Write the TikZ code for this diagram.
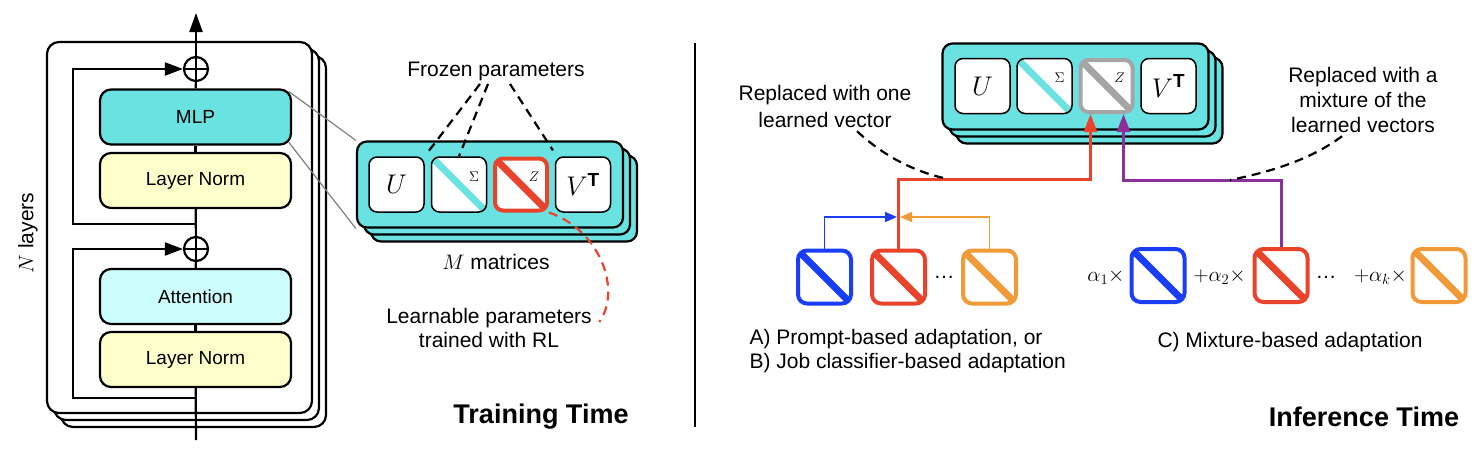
\RequirePackage{fix-cm}
\documentclass[tikz,border=0pt]{standalone}
\usepackage{amsmath}
\usepackage[no-math]{fontspec}
\setmainfont{Liberation Sans}
\setsansfont{Liberation Sans}
\usetikzlibrary{arrows.meta}
\definecolor{mlpcyan}{HTML}{6AE2E2}
\definecolor{attcyan}{HTML}{CCFEFE}
\definecolor{normyellow}{HTML}{FFFFCC}
\definecolor{zred}{HTML}{E9442B}
\definecolor{zblue}{HTML}{1A3DF6}
\definecolor{zorange}{HTML}{F19A38}
\definecolor{zpurple}{HTML}{8C2F9B}
\definecolor{zgray}{HTML}{A5A5A5}
\tikzset{
	diagline/.style={path picture={\draw[line width=7pt,#1] (path picture bounding box.north west) -- (path picture bounding box.south east);}},
	layerbox/.style={draw,line width=2.2pt,rounded corners=12pt,fill=white,minimum width=265pt,minimum height=371pt},
	blockbox/.style={draw,line width=2.2pt,rounded corners=11pt,minimum width=191pt,minimum height=55pt,font=\fontsize{19}{22}\selectfont},
	plusnode/.style={circle,draw,line width=2.2pt,minimum size=24pt},
	mblock/.style={draw,line width=2.2pt,rounded corners=10pt,fill=mlpcyan,minimum width=266pt,minimum height=86pt},
	cell/.style={draw,line width=1.5pt,rounded corners=8pt,fill=white,minimum size=55pt,font=\fontsize{27}{27}\selectfont},
	zcell/.style={draw=#1,line width=4pt,rounded corners=8pt,fill=white,minimum size=52pt,diagline=#1},
	vcell/.style={draw=#1,line width=4pt,rounded corners=9pt,fill=white,minimum size=53pt,diagline=#1},
	tiny/.style={font=\fontsize{14}{14}\selectfont},
	title/.style={font=\fontsize{27}{30}\selectfont\bfseries},
	annot/.style={line width=2.2pt,dash pattern=on 9pt off 6pt},
	bigtip/.style={-{Triangle[length=18pt,width=13pt]}},
	smalltip/.style={-{Triangle[length=12pt,width=10pt]}}
}
\begin{document}
\begin{tikzpicture}[x=1pt,y=-1pt,every node/.append style={font=\fontsize{21}{25}\selectfont}]
		\useasboundingbox (0,0) rectangle (1484,466);
		
		\node[layerbox] (L3) at (193.5,241.5) {};
		\node[layerbox] (L2) at (186.5,234.5) {};
		\node[layerbox] (L1) at (179.5,227.5) {};
		\node[rotate=90] (nl) at (28,233) {$N$ layers};
		
		\coordinate (in) at (196,440);
		\coordinate (out) at (196,13);
		\coordinate (k1) at (196,224);
		\coordinate (k2) at (196,398);
		
		\node[blockbox,fill=mlpcyan] (mlp) at (195.5,117) {MLP};
		\node[blockbox,fill=normyellow] (ln1) at (195.5,180.5) {Layer Norm};
		\node[blockbox,fill=attcyan] (att) at (195.5,296.5) {Attention};
		\node[blockbox,fill=normyellow] (ln2) at (195.5,359.5) {Layer Norm};
		\node[plusnode] (p1) at (196,69) {};
		\node[plusnode] (p2) at (196,249) {};
		
		\draw[line width=2.2pt] (in) -- (ln2);
		\draw[line width=2.2pt] (ln2) -- (att);
		\draw[line width=2.2pt] (att) -- (p2);
		\draw[line width=2.2pt] (p2) -- (ln1);
		\draw[line width=2.2pt] (ln1) -- (mlp);
		\draw[line width=2.2pt] (mlp) -- (p1);
		\draw[line width=2.2pt,-{Triangle[length=19pt,width=13pt]}] (p1) -- (out);
		\draw[line width=2.2pt] (p1.north) -- (p1.south);
		\draw[line width=2.2pt] (p1.west) -- (p1.east);
		\draw[line width=2.2pt] (p2.north) -- (p2.south);
		\draw[line width=2.2pt] (p2.west) -- (p2.east);
		\draw[line width=2.2pt,bigtip] (k1) -- (73,224) |- (p1);
		\draw[line width=2.2pt,bigtip] (k2) -- (73,398) |- (p2);
		
		\node[mblock] (mb3) at (504,198.5) {};
		\node[mblock] (mb2) at (497,191.5) {};
		\node[mblock] (mb1) at (490,184.5) {};
		\draw[gray,line width=1.2pt] ([shift={(-3.2,3.2)}]mlp.north east) -- (mb1.north west);
		\draw[gray,line width=1.2pt] ([shift={(-3.2,-3.2)}]mlp.south east) -- (mb1.south west);
		
		\node[cell] (U1) at (396.5,184.5) {$U$};
		\node[cell,diagline=mlpcyan] (S1) at (459,184.5) {};
		\node[zcell=zred] (Z1) at (521,184.5) {};
		\node[cell] (V1) at (583,184.5) {$V^{\textbf{\sffamily T}}$};
		\node[tiny] (S1l) at ([shift={(15,-8)}]S1.center) {$\Sigma$};
		\node[tiny] (Z1l) at ([shift={(13,-8)}]Z1.center) {$Z$};
		
		\node (frozen) at (496,71) {Frozen parameters};
		\draw[annot,shorten >=2pt] ([xshift=-16pt]frozen.south) -- (U1.north east);
		\draw[annot] ([xshift=-8pt]frozen.south) -- (S1.north);
		\draw[annot,shorten >=7pt] ([xshift=14pt]frozen.south) -- ([xshift=2pt]V1.north west);
		
		\node (mm) at (496,262) {$M$ matrices};
		\node[align=center,font=\fontsize{21}{24}\selectfont] (learn) at (489,328) {Learnable parameters\\trained with RL};
		\draw[annot,zred] (Z1.south east) .. controls (600,230) and (622,290) .. ([shift={(4,-6)}]learn.east);
		\node[title] (train) at (541,417) {Training Time};
		
		\coordinate (sepT) at (695,43);
		\coordinate (sepB) at (695,427);
		\draw[line width=2.2pt] (sepT) -- (sepB);
		
		\node[mblock] (mr3) at (1089.5,100.5) {};
		\node[mblock] (mr2) at (1082.5,93.5) {};
		\node[mblock] (mr1) at (1075.5,86.5) {};
		\node[cell] (U2) at (982.5,86) {$U$};
		\node[cell,diagline=mlpcyan] (S2) at (1044.5,86) {};
		\node[zcell=zgray] (Z2) at (1106.5,86) {};
		\node[cell] (V2) at (1168.5,86) {$V^{\textbf{\sffamily T}}$};
		\node[tiny] (S2l) at ([shift={(15,-8)}]S2.center) {$\Sigma$};
		\node[tiny] (Z2l) at ([shift={(13,-8)}]Z2.center) {$Z$};
		
		\node[vcell=zblue] (bA) at (824.5,277) {};
		\node[vcell=zred] (rA) at (898.5,277) {};
		\node (dotsA) at (944,277) {\ldots};
		\node[vcell=zorange] (oA) at (989.5,277) {};
		
		\node (a1) at (1106,277) {$\alpha_1\times$};
		\node[vcell=zblue] (bC) at (1158,275.5) {};
		\node (a2) at (1219.5,277) {$+\alpha_2\times$};
		\node[vcell=zred] (rC) at (1281,275.5) {};
		\node (dotsC) at (1326,277) {\ldots};
		\node (ak) at (1380.5,277) {$+\alpha_k\times$};
		\node[vcell=zorange] (oC) at (1439,275.5) {};
		
		\coordinate (rj) at (1090.5,179);
		\coordinate (pj) at (1123.5,180);
		\coordinate (mj) at (898.5,217);
		\draw[zred,line width=3pt,bigtip] (rA.north) |- (rj) -- ([xshift=-16pt]Z2.south);
		\draw[zpurple,line width=3pt,bigtip] (rC.north) |- (pj) -- ([xshift=17pt]Z2.south);
		\draw[zblue,line width=1.6pt,smalltip,shorten >=1.5pt] (bA.north) |- (mj);
		\draw[zorange,line width=1.6pt,smalltip,shorten >=1.5pt] (oA.north) |- (mj);
		
		\node[align=center,font=\fontsize{21}{27}\selectfont] (rep1) at (825,106.5) {Replaced with one\\learned vector};
		\node[align=center,font=\fontsize{21}{25}\selectfont] (rep2) at (1363,100) {Replaced with a\\mixture of the\\learned vectors};
		\coordinate (rm) at (948,179);
		\coordinate (pm) at (1230,180);
		\draw[annot] ([xshift=32pt]rep1.south) .. controls (885,157) and (915,172) .. (rm);
		\draw[annot] ([xshift=-21pt]rep2.south) .. controls (1310,160) and (1270,172) .. (pm);
		
		\node[align=left,anchor=west,font=\fontsize{21}{24}\selectfont] (ab) at (746,351) {A) Prompt-based adaptation, or\\B) Job classifier-based adaptation};
		\node (cmix) at (1290,342) {C) Mixture-based adaptation};
		\node[title] (inf) at (1364,417) {Inference Time};
	\end{tikzpicture}
\end{document}
